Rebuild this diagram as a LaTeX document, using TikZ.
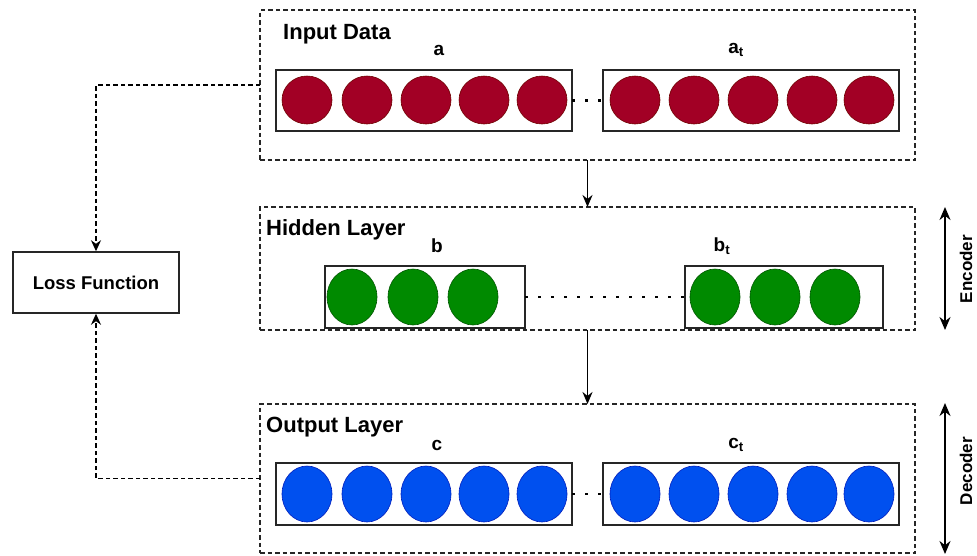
\documentclass[tikz,border=0pt]{standalone}
\usepackage{fontspec}
\setmainfont{Liberation Sans}
\usetikzlibrary{shapes.geometric,arrows.meta}
\definecolor{redfill}{HTML}{A20025}
\definecolor{redline}{HTML}{6F0000}
\definecolor{greenfill}{HTML}{008A00}
\definecolor{greenline}{HTML}{005700}
\definecolor{bluefill}{HTML}{0050EF}
\definecolor{blueline}{HTML}{001DBC}
\tikzset{
  groupbox/.style={draw=black!85, dash pattern=on 4.5pt off 3pt, line width=1.2pt, inner sep=0pt, outer sep=0pt, anchor=north west},
  layerrect/.style={draw=black!85, line width=1.5pt, inner sep=0pt, outer sep=0pt, anchor=north west},
  unit/.style={ellipse, inner sep=0pt, outer sep=0pt, line width=0.6pt},
  redunit/.style={unit, fill=redfill, draw=redline, minimum width=50pt, minimum height=48pt},
  greenunit/.style={unit, fill=greenfill, draw=greenline, minimum width=50pt, minimum height=56pt},
  blueunit/.style={unit, fill=bluefill, draw=blueline, minimum width=50pt, minimum height=56pt},
  title/.style={font=\fontsize{22}{24}\selectfont\bfseries, anchor=west, inner sep=0pt},
  sym/.style={font=\fontsize{19}{20}\selectfont\bfseries, inner sep=0pt},
  sidelabel/.style={font=\fontsize{17}{18}\selectfont\bfseries, rotate=90, inner sep=0pt},
  dotline/.style={line width=2.5pt, dash pattern=on 2.5pt off 10.5pt},
  flow/.style={-{Stealth[length=12pt,width=10pt]}, line width=1.7pt},
  span/.style={{Stealth[length=13pt,width=11pt]}-{Stealth[length=13pt,width=11pt]}, line width=1.8pt},
  feedback/.style={dash pattern=on 4.5pt off 3pt, line width=1.3pt, -{Stealth[length=11pt,width=10pt]}},
  lossbox/.style={draw=black!85, line width=1.5pt, minimum width=166pt, minimum height=61pt, inner sep=0pt, font=\fontsize{18.5}{20}\selectfont\bfseries},
}
\begin{document}
\begin{tikzpicture}[x=1pt,y=-1pt]
\useasboundingbox (0,0) rectangle (977,555);
% group boxes
\node[groupbox, minimum width=655pt, minimum height=150pt] (inp) at (260,10) {};
\node[groupbox, minimum width=655pt, minimum height=123pt] (hid) at (260,207) {};
\node[groupbox, minimum width=655pt, minimum height=149pt] (outp) at (260,404) {};
% titles
\node[title] (tin) at (283,34) {Input Data};
\node[title] (thid) at (266,230) {Hidden Layer};
\node[title] (tout) at (266,427) {Output Layer};
% symbol labels
\node[sym] (la) at (439,50) {a};
\node[sym] (lat) at (736,50) {a\textsubscript{t}};
\node[sym] (lb) at (437,246) {b};
\node[sym] (lbt) at (722,246) {b\textsubscript{t}};
\node[sym] (lc) at (437,445) {c};
\node[sym] (lct) at (736,445) {c\textsubscript{t}};
% layer rectangles
\node[layerrect, minimum width=296pt, minimum height=61pt] (ra) at (276,70) {};
\node[layerrect, minimum width=296pt, minimum height=61pt] (rat) at (603,70) {};
\node[layerrect, minimum width=200pt, minimum height=62pt] (rb) at (325,266) {};
\node[layerrect, minimum width=198pt, minimum height=62pt] (rbt) at (685,266) {};
\node[layerrect, minimum width=296pt, minimum height=62pt] (rc) at (276,463) {};
\node[layerrect, minimum width=296pt, minimum height=62pt] (rct) at (603,463) {};
% units
\foreach \x [count=\i] in {307,367,426,484,542} \node[redunit] (a\i) at (\x,100) {};
\foreach \x [count=\i] in {635,694,753,812,869} \node[redunit] (at\i) at (\x,100) {};
\foreach \x [count=\i] in {352,413,473} \node[greenunit] (b\i) at (\x,297) {};
\foreach \x [count=\i] in {715,775,835} \node[greenunit] (bt\i) at (\x,297) {};
\foreach \x [count=\i] in {307,367,426,484,542} \node[blueunit] (c\i) at (\x,494) {};
\foreach \x [count=\i] in {635,694,753,812,869} \node[blueunit] (ct\i) at (\x,494) {};
% dotted links
\draw[dotline] (ra.east) -- (rat.west);
\draw[dotline] (rb.east) -- (rbt.west);
\draw[dotline] (rc.east) -- (rct.west);
% flow arrows
\draw[flow] (inp.south) -- (hid.north);
\draw[flow] (hid.south) -- (outp.north);
% loss
\node[lossbox] (loss) at (96,282.5) {Loss Function};
\draw[feedback] (inp.west) -| (loss.north);
\draw[feedback] (outp.west) -| (loss.south);
% encoder / decoder
\coordinate (enctop) at (945,207);
\coordinate (encbot) at (945,330);
\coordinate (dectop) at (945,403);
\coordinate (decbot) at (945,554);
\draw[span] (enctop) -- (encbot);
\draw[span] (dectop) -- (decbot);
\node[sidelabel] (enc) at (966,269) {Encoder};
\node[sidelabel] (dec) at (966,471) {Decoder};
\end{tikzpicture}
\end{document}
